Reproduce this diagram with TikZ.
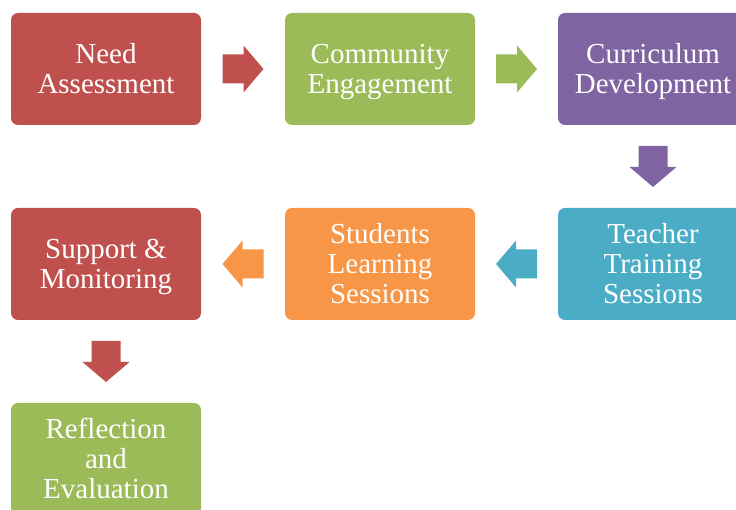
\documentclass[tikz,border=0pt]{standalone}
\usepackage{fontspec}
\setmainfont{Liberation Serif}
\definecolor{cred}{HTML}{C0504D}
\definecolor{cgreen}{HTML}{9BBB59}
\definecolor{cpurple}{HTML}{8064A2}
\definecolor{cteal}{HTML}{4BACC6}
\definecolor{corange}{HTML}{F79646}
\newcommand\ms{\rule[-7pt]{0pt}{34pt}}
\newcommand\boxfont{\fontsize{29}{30}\selectfont\lineskiplimit=-100pt\relax\lineskip=0pt\relax}
\newcommand\blockarr[3]{\fill[#3, shift={(#1)}, rotate=#2] (-20.5,-14.5) -- (0.5,-14.5) -- (0.5,-23.5) -- (20.5,0) -- (0.5,23.5) -- (0.5,14.5) -- (-20.5,14.5) -- cycle;}
\begin{document}
\begin{tikzpicture}[x=1pt,y=1pt,
  box/.style={rectangle, rounded corners=7pt, minimum width=190pt, minimum height=112pt,
    text=white, align=center, font=\boxfont, inner sep=0pt}]
\useasboundingbox (0,0) rectangle (736,510);
\clip (0,0) rectangle (736,510);
\node[box, fill=cred] (n1) at (106,441) {\ms Need\\\ms Assessment};
\node[box, fill=cgreen] (n2) at (380,441) {\ms Community\\\ms Engagement};
\node[box, fill=cpurple] (n3) at (653,441) {\ms Curriculum\\\ms Development};
\node[box, fill=cteal] (n4) at (653,246) {\ms Teacher\\\ms Training\\\ms Sessions};
\node[box, fill=corange] (n5) at (380,246) {\ms Students\\\ms Learning\\\ms Sessions};
\node[box, fill=cred] (n6) at (106,246) {\ms Support \&\\\ms Monitoring};
\node[box, fill=cgreen] (n7) at (106,51) {\ms Reflection\\\ms and\\\ms Evaluation};
\path (n1.east) -- (n2.west) coordinate[pos=0.5] (a1);
\path (n2.east) -- (n3.west) coordinate[pos=0.5] (a2);
\path (n3.south) -- (n4.north) coordinate[pos=0.5] (a3);
\path (n4.west) -- (n5.east) coordinate[pos=0.5] (a4);
\path (n5.west) -- (n6.east) coordinate[pos=0.5] (a5);
\path (n6.south) -- (n7.north) coordinate[pos=0.5] (a6);
\blockarr{a1}{0}{cred}
\blockarr{a2}{0}{cgreen}
\blockarr{a3}{-90}{cpurple}
\blockarr{a4}{180}{cteal}
\blockarr{a5}{180}{corange}
\blockarr{a6}{-90}{cred}
\end{tikzpicture}
\end{document}
